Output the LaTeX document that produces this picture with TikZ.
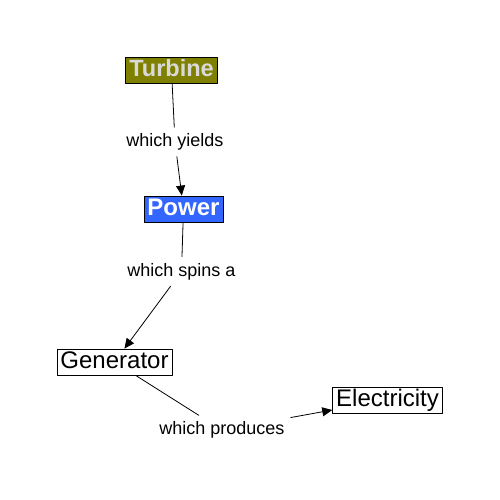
\documentclass[tikz,border=0pt]{standalone}
\usepackage{fontspec}
\setmainfont{Liberation Sans}
\usetikzlibrary{arrows.meta}
\definecolor{turbinefill}{RGB}{128,128,0}
\definecolor{powerfill}{RGB}{51,102,255}

\begin{document}
\begin{tikzpicture}[x=1pt, y=-1pt, line cap=round, line join=round, >={Triangle[length=10pt,width=9pt]},
	concept/.style={draw=black, line width=0.8pt, inner xsep=3.5pt, inner ysep=1.5pt, text height=18pt, text depth=5pt, font=\fontsize{24}{24}\selectfont},
	link/.style={inner sep=6pt, text height=13pt, text depth=4pt, font=\fontsize{18}{18}\selectfont},
	conn/.style={line width=0.8pt}]
	\useasboundingbox (0,0) rectangle (500,500);
	
	% 1. Cac khai niem
	\node[concept, fill=turbinefill, text=black!15, font=\bfseries\fontsize{23.5}{23.5}\selectfont] (turbine) at (171.5,70.5) {Turbine};
	\node[concept, fill=powerfill, text=white, font=\bfseries\fontsize{24}{24}\selectfont] (power) at (183.5,209) {Power};
	\node[concept] (generator) at (114.5,362) {Generator};
	\node[concept] (electricity) at (387.5,400) {Electricity};
	
	% 2. Cac nhan lien ket
	\node[link] (yields) at (175,142) {which yields};
	\node[link] (spins) at (181.5,271.5) {which spins a};
	\node[link] (produces) at (222,430) {which produces};
	
	% 3. Cac duong noi
	\draw[conn] (turbine) -- (yields);
	\draw[conn, ->] (yields) -- (power);
	\draw[conn] (power) -- (spins);
	\draw[conn, ->] (spins) -- (generator);
	\draw[conn] (generator) -- (produces);
	\draw[conn, ->] (produces) -- (electricity);
\end{tikzpicture}
\end{document}
